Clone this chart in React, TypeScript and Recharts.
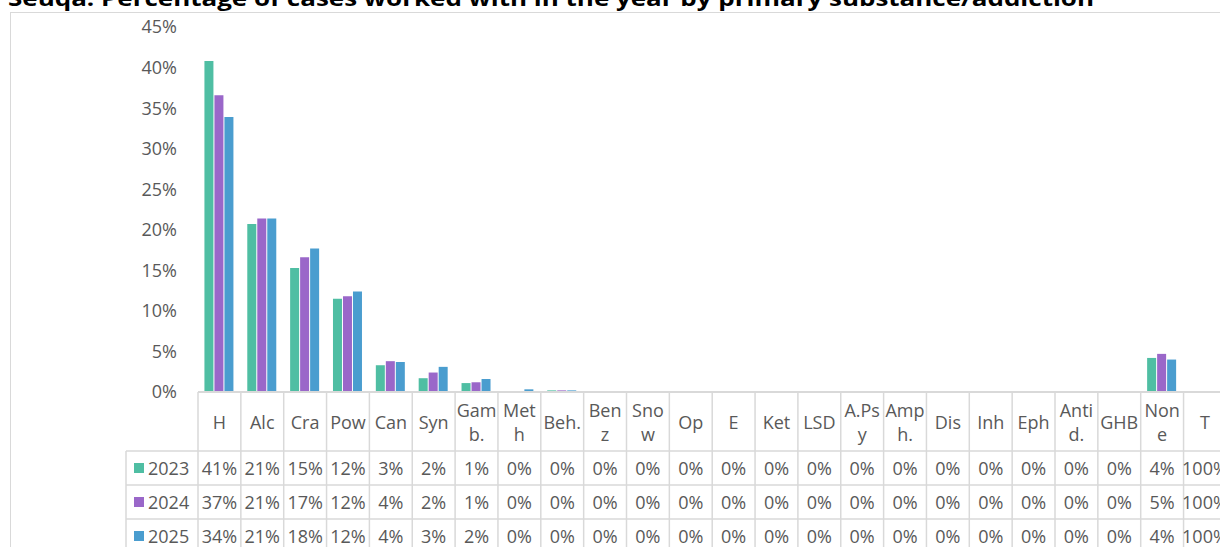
import { Bar, BarChart, XAxis, YAxis } from "recharts";

// category labels as they wrap in the data table
const categories = [
  "H", "Alc", "Cra", "Pow", "Can", "Syn", "Gam\nb.", "Met\nh", "Beh.", "Ben\nz",
  "Sno\nw", "Op", "E", "Ket", "LSD", "A.Ps\ny", "Amp\nh.", "Dis", "Inh", "Eph",
  "Anti\nd.", "GHB", "Non\ne", "T",
];

const years = ["2023", "2024", "2025"];

// percentages (T has no bar drawn)
const v2023 = [40.8, 20.7, 15.3, 11.5, 3.3, 1.7, 1.1, 0.03, 0.2, 0.02, 0.1, 0.07, 0.05, 0, 0.1, 0, 0, 0, 0, 0, 0, 0, 4.2, null];
const v2024 = [36.6, 21.4, 16.6, 11.8, 3.8, 2.4, 1.2, 0.12, 0.2, 0.07, 0.1, 0, 0.05, 0, 0, 0, 0, 0, 0, 0, 0, 0, 4.7, null];
const v2025 = [33.9, 21.4, 17.7, 12.4, 3.7, 3.1, 1.6, 0.33, 0.2, 0.1, 0.1, 0.1, 0.05, 0.1, 0.05, 0.05, 0, 0, 0, 0, 0, 0, 4.0, null];
const totals = [100, 100, 100];

const yTicks = [0, 5, 10, 15, 20, 25, 30, 35, 40, 45];
const colors = ["#4fbea3", "#9a67c9", "#4a9dcf"];

const series = [v2023, v2024, v2025];
const data = categories.map((cat, i) => ({
  cat,
  y2023: v2023[i],
  y2024: v2024[i],
  y2025: v2025[i],
}));

const GRID = "#d9d9d9";
const TEXT = "#595959";
const FONT = "'Open Sans', sans-serif";
const COL_W = 1028.4 / categories.length;
const HEAD_H = 59;
const ROW_H = 34;

const cellText = (r: number, i: number) => {
  const v = series[r][i];
  return (v == null ? totals[r] : Math.round(v)) + "%";
};

const TableColumn = (props: any) => {
  const { x, y, payload, index } = props;
  const left = x - COL_W / 2;
  const right = x + COL_W / 2;
  const lines = String(payload.value).split("\n");
  const bottom = 600;
  const headMid = y + HEAD_H / 2;
  const txt = { fill: TEXT, fontSize: 18, fontFamily: FONT };

  return (
    <g>
      <line x1={left} x2={left} y1={y} y2={bottom} stroke={GRID} strokeWidth={1.5} />
      {index === categories.length - 1 && (
        <line x1={right} x2={right} y1={y} y2={bottom} stroke={GRID} strokeWidth={1.5} />
      )}
      {[0, 1, 2].map((r) => (
        <line
          key={r}
          x1={index === 0 ? 126 : left}
          x2={right}
          y1={y + HEAD_H + r * ROW_H}
          y2={y + HEAD_H + r * ROW_H}
          stroke={GRID}
          strokeWidth={1.5}
        />
      ))}
      {lines.map((l, k) => (
        <text
          key={k}
          x={x}
          y={lines.length === 1 ? headMid : headMid + (k === 0 ? -12 : 12)}
          textAnchor="middle"
          dominantBaseline="central"
          {...txt}
        >
          {l}
        </text>
      ))}
      {years.map((_, r) => (
        <text
          key={r}
          x={x}
          y={y + HEAD_H + ROW_H * (r + 0.5)}
          textAnchor="middle"
          dominantBaseline="central"
          {...txt}
        >
          {cellText(r, index)}
        </text>
      ))}
      {index === 0 && (
        <g>
          <line x1={126} x2={126} y1={y + HEAD_H} y2={bottom} stroke={GRID} strokeWidth={1.5} />
          {years.map((yr, r) => {
            const cy = y + HEAD_H + ROW_H * (r + 0.5);
            return (
              <g key={yr}>
                <rect x={134} y={cy - 5} width={10} height={10} fill={colors[r]} />
                <text x={148} y={cy} dominantBaseline="central" {...txt}>
                  {yr}
                </text>
              </g>
            );
          })}
        </g>
      )}
    </g>
  );
};

export default function App() {
  return (
    <div
      style={{
        position: "fixed",
        left: 0,
        top: 0,
        width: 1220,
        height: 547,
        overflow: "hidden",
        background: "#fff",
      }}
    >
      <div
        style={{
          position: "absolute",
          left: 10,
          top: 12,
          width: 1300,
          height: 600,
          border: `1px solid ${GRID}`,
        }}
      />
      <svg style={{ position: "absolute", left: 0, top: 0 }} width={1220} height={12}>
        <text
          x={8}
          y={5.5}
          fontFamily={FONT}
          fontWeight="bold"
          fontSize={21}
          fill="#000"
          textLength={1086}
          lengthAdjust="spacingAndGlyphs"
        >
          Seuqa: Percentage of cases worked with in the year by primary substance/addiction
        </text>
      </svg>
      <div style={{ position: "absolute", left: 0, top: 0 }}>
        <BarChart
          width={1230}
          height={547}
          data={data}
          margin={{ top: 27, right: 3.6, bottom: 0, left: 0 }}
          barCategoryGap="15%"
          barGap={1}
        >
          <XAxis
            dataKey="cat"
            height={155}
            interval={0}
            tickLine={false}
            tickSize={0}
            tickMargin={0}
            axisLine={{ stroke: GRID, strokeWidth: 2 }}
            tick={(p: any) => <TableColumn {...p} />}
          />
          <YAxis
            width={198}
            domain={[0, 45]}
            ticks={yTicks}
            axisLine={false}
            tickLine={false}
            tickSize={0}
            tickMargin={21}
            tickFormatter={(v: number) => `${v}%`}
            tick={{ fill: TEXT, fontSize: 18, fontFamily: FONT }}
          />
          <Bar dataKey="y2023" fill={colors[0]} isAnimationActive={false} />
          <Bar dataKey="y2024" fill={colors[1]} isAnimationActive={false} />
          <Bar dataKey="y2025" fill={colors[2]} isAnimationActive={false} />
        </BarChart>
      </div>
    </div>
  );
}
